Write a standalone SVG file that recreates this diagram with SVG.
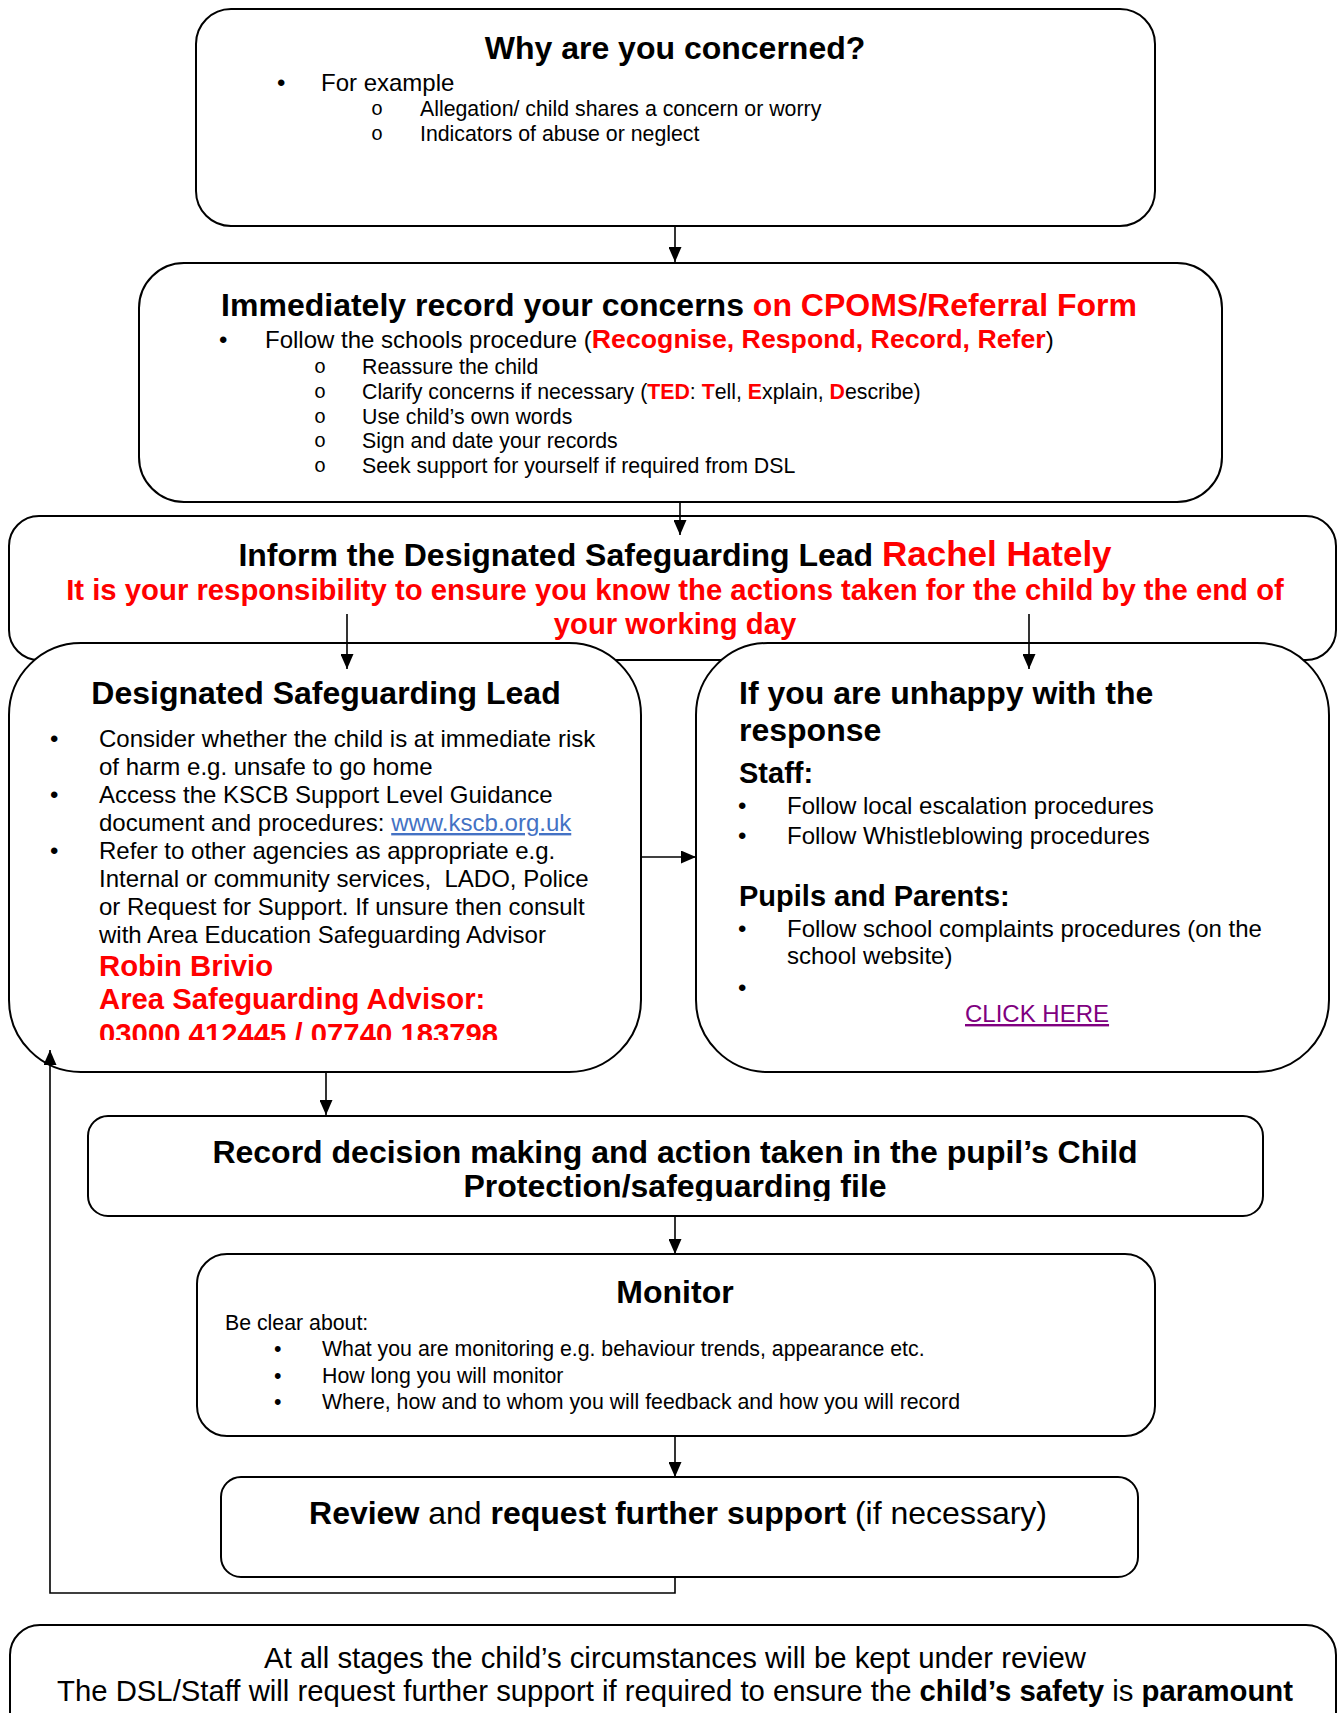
<svg xmlns="http://www.w3.org/2000/svg" width="1341" height="1713" viewBox="0 0 1341 1713">
<style>
text{font-family:"Liberation Sans",Arial,Helvetica,sans-serif;fill:#000}
.box{fill:#fff;stroke:#000;stroke-width:2}
.con{fill:none;stroke:#000;stroke-width:1.6}
.b{font-weight:bold}
.r{fill:#f00}
.h{font-size:32px;font-weight:bold}
.m{font-size:24px}
.s{font-size:21.3px}
.o{font-family:"Liberation Mono","Courier New",monospace;font-size:20px;text-anchor:middle}
.rb{font-size:29.3px;font-weight:bold;fill:#f00}
.mid{text-anchor:middle}
.link{fill:#4472c4;text-decoration:underline}
.purple{fill:#800080;text-decoration:underline}
</style>
<defs>
<marker id="ah" markerUnits="userSpaceOnUse" markerWidth="16" markerHeight="13" refX="15" refY="6.5" orient="auto"><path d="M0,0 L15,6.5 L0,13 z" fill="#000"/></marker>
<clipPath id="clip4"><rect x="0" y="600" width="700" height="440"/></clipPath>
<clipPath id="clip6"><rect x="0" y="1100" width="1341" height="101"/></clipPath>
</defs>

<g id="node-concerned">
<rect class="box" x="196" y="9" width="959" height="217" rx="35"/>
<text class="h mid" x="675" y="59">Why are you concerned?</text>
<text class="m" x="277" y="91">•</text>
<text class="m" x="321" y="91">For example</text>
<text class="o" x="377" y="115">o</text>
<text class="s" x="420" y="116">Allegation/ child shares a concern or worry</text>
<text class="o" x="377" y="140">o</text>
<text class="s" x="420" y="141">Indicators of abuse or neglect</text>
</g>

<g id="node-record">
<rect class="box" x="139" y="263" width="1083" height="239" rx="45"/>
<text class="h mid" x="679" y="316">Immediately record your concerns <tspan class="r">on CPOMS/Referral Form</tspan></text>
<text class="m" x="219" y="348">•</text>
<text class="m" x="265" y="348">Follow the schools procedure (<tspan class="b r" style="font-size:26.7px">Recognise, Respond, Record, Refer</tspan>)</text>
<text class="o" x="320" y="373">o</text>
<text class="s" x="362" y="374">Reassure the child</text>
<text class="o" x="320" y="398">o</text>
<text class="s" x="362" y="399">Clarify concerns if necessary (<tspan class="b r">TED</tspan>: <tspan class="b r">T</tspan>ell, <tspan class="b r">E</tspan>xplain, <tspan class="b r">D</tspan>escribe)</text>
<text class="o" x="320" y="423">o</text>
<text class="s" x="362" y="424">Use child’s own words</text>
<text class="o" x="320" y="447">o</text>
<text class="s" x="362" y="448">Sign and date your records</text>
<text class="o" x="320" y="472">o</text>
<text class="s" x="362" y="473">Seek support for yourself if required from DSL</text>
</g>

<g id="node-inform">
<rect class="box" x="9" y="516" width="1327" height="144" rx="30"/>
<text class="h mid" x="675" y="566">Inform the Designated Safeguarding Lead <tspan class="r" style="font-size:35px">Rachel Hately</tspan></text>
<text class="rb mid" x="675" y="600">It is your responsibility to ensure you know the actions taken for the child by the end of</text>
<text class="rb mid" x="675" y="634">your working day</text>
</g>

<g id="node-dsl">
<rect class="box" x="9" y="643" width="632" height="429" rx="72"/>
<text class="h mid" x="326" y="704">Designated Safeguarding Lead</text>
<text class="m" x="50" y="747">•</text>
<text class="m" x="99" y="747">Consider whether the child is at immediate risk</text>
<text class="m" x="99" y="775">of harm e.g. unsafe to go home</text>
<text class="m" x="50" y="803">•</text>
<text class="m" x="99" y="803">Access the KSCB Support Level Guidance</text>
<text class="m" x="99" y="831">document and procedures: <tspan class="link">www.kscb.org.uk</tspan></text>
<text class="m" x="50" y="859">•</text>
<text class="m" x="99" y="859">Refer to other agencies as appropriate e.g.</text>
<text class="m" x="99" y="887">Internal or community services,&#160; LADO, Police</text>
<text class="m" x="99" y="915">or Request for Support. If unsure then consult</text>
<text class="m" x="99" y="943">with Area Education Safeguarding Advisor</text>
<text class="rb" x="99" y="976">Robin Brivio</text>
<text class="rb" x="99" y="1009">Area Safeguarding Advisor:</text>
<text class="rb" x="99" y="1044" clip-path="url(#clip4)">03000 412445 / 07740 183798</text>
</g>

<g id="node-unhappy">
<rect class="box" x="696" y="643" width="633" height="429" rx="72"/>
<text class="h" x="739" y="704">If you are unhappy with the</text>
<text class="h" x="739" y="741">response</text>
<text class="b" style="font-size:29px" x="739" y="783">Staff:</text>
<text class="m" x="738" y="814">•</text>
<text class="m" x="787" y="814">Follow local escalation procedures</text>
<text class="m" x="738" y="844">•</text>
<text class="m" x="787" y="844">Follow Whistleblowing procedures</text>
<text class="b" style="font-size:29px" x="739" y="906">Pupils and Parents:</text>
<text class="m" x="738" y="937">•</text>
<text class="m" x="787" y="937">Follow school complaints procedures (on the</text>
<text class="m" x="787" y="964">school website)</text>
<text class="m" x="738" y="996">•</text>
<text class="m purple" x="965" y="1022">CLICK HERE</text>
</g>

<g id="node-decision">
<rect class="box" x="88" y="1116" width="1175" height="100" rx="20"/>
<text class="h mid" x="675" y="1163">Record decision making and action taken in the pupil’s Child</text>
<text class="h mid" x="675" y="1197" clip-path="url(#clip6)">Protection/safeguarding file</text>
</g>

<g id="node-monitor">
<rect class="box" x="197" y="1254" width="958" height="182" rx="30"/>
<text class="h mid" x="675" y="1303">Monitor</text>
<text class="s" x="225" y="1330">Be clear about:</text>
<text class="s" x="274" y="1356">•</text>
<text class="s" x="322" y="1356">What you are monitoring e.g. behaviour trends, appearance etc.</text>
<text class="s" x="274" y="1383">•</text>
<text class="s" x="322" y="1383">How long you will monitor</text>
<text class="s" x="274" y="1409">•</text>
<text class="s" x="322" y="1409">Where, how and to whom you will feedback and how you will record</text>
</g>

<g id="node-review">
<rect class="box" x="221" y="1477" width="917" height="100" rx="20"/>
<text class="mid" style="font-size:32px" x="678" y="1524"><tspan class="b">Review</tspan> and <tspan class="b">request further support</tspan> (if necessary)</text>
</g>

<g id="node-stages">
<rect class="box" x="10" y="1625" width="1326" height="130" rx="30"/>
<text class="mid" style="font-size:29.3px" x="675" y="1668">At all stages the child’s circumstances will be kept under review</text>
<text class="mid" style="font-size:29.3px" x="675" y="1701">The DSL/Staff will request further support if required to ensure the <tspan class="b">child’s safety</tspan> is <tspan class="b">paramount</tspan></text>
</g>

<g id="connectors">
<path class="con" d="M675,226 V262" marker-end="url(#ah)"/>
<path class="con" d="M680,502 V535" marker-end="url(#ah)"/>
<path class="con" d="M347,614 V669" marker-end="url(#ah)"/>
<path class="con" d="M1029,614 V669" marker-end="url(#ah)"/>
<path class="con" d="M641,857 H696" marker-end="url(#ah)"/>
<path class="con" d="M326,1072 V1115" marker-end="url(#ah)"/>
<path class="con" d="M675,1216 V1254" marker-end="url(#ah)"/>
<path class="con" d="M675,1436 V1477" marker-end="url(#ah)"/>
<path class="con" d="M675,1577 V1593 H50 V1050" marker-end="url(#ah)"/>
</g>
</svg>
